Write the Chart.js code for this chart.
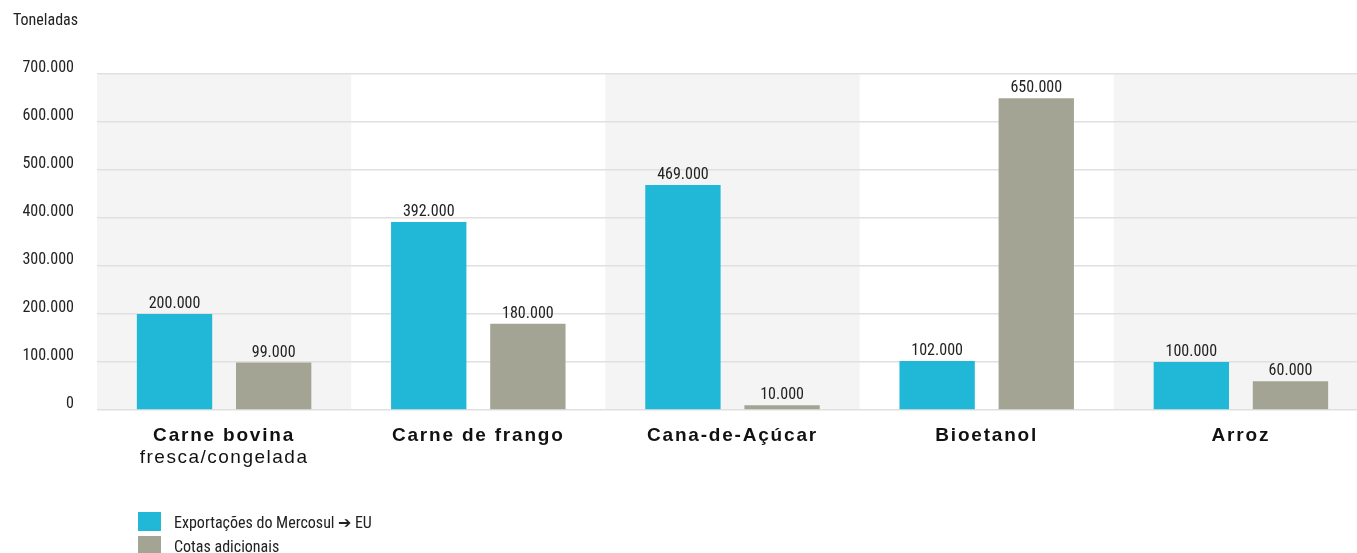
<!DOCTYPE html>
<html>
<head>
<meta charset="utf-8">
<script src="https://cdn.jsdelivr.net/npm/chart.js@4.4.0/dist/chart.umd.min.js"></script>
<style>
  html, body { margin: 0; background: #fff; overflow: hidden; }
  #wrap { width: 1368px; height: 553px; position: relative; }
</style>
</head>
<body>
<div id="wrap"><canvas id="myChart1"></canvas></div>
<script>
//-----------------------------------------------
// data
//-----------------------------------------------
var categories = ['Carne bovina', 'Carne de frango', 'Cana-de-Açúcar', 'Bioetanol', 'Arroz'];
var subLabels = ['fresca/congelada', '', '', '', ''];
var exportacoes = [200000, 392000, 469000, 102000, 100000];
var cotas = [99000, 180000, 10000, 650000, 60000];
var seriesNames = ['Exportações do Mercosul ➔ EU', 'Cotas adicionais'];
var seriesColors = ['#21b8d8', '#a3a494'];
var yTitle = 'Toneladas';
var yMax = 700000;
var yStep = 100000;

var narrow = '"Liberation Sans Narrow", "Roboto Condensed", Roboto, sans-serif';
var wide = '"Liberation Sans", Arial, sans-serif';

function fmt(v) {
  return String(v).replace(/\B(?=(\d{3})+(?!\d))/g, '.');
}

var ctx = document.getElementById('myChart1').getContext('2d');

//-----------------------------------------------
// plugin: shaded bands, value labels, category labels, legend
//-----------------------------------------------
var extras = {
  id: 'extras',
  beforeDraw: function(chart) {
    var c = chart.ctx, a = chart.chartArea, x = chart.scales.x;
    var w = x.width / categories.length;
    c.save();
    c.fillStyle = '#f4f4f4';
    for (var i = 0; i < categories.length; i += 2) {
      var cx = x.getPixelForValue(i);
      c.fillRect(cx - w / 2, a.top, w, a.bottom - a.top);
    }
    c.restore();
  },
  afterDatasetsDraw: function(chart) {
    var c = chart.ctx, a = chart.chartArea, x = chart.scales.x;
    var spacing = 'letterSpacing' in c;
    c.save();
    // numbers above bars
    c.font = '16px ' + narrow;
    c.fillStyle = '#222';
    c.textAlign = 'center';
    c.textBaseline = 'alphabetic';
    chart.data.datasets.forEach(function(ds, di) {
      chart.getDatasetMeta(di).data.forEach(function(bar, j) {
        c.fillText(fmt(ds.data[j]), bar.x, bar.y - 6);
      });
    });
    // category labels
    c.fillStyle = '#111';
    for (var i = 0; i < categories.length; i++) {
      var cx = x.getPixelForValue(i);
      if (spacing) c.letterSpacing = '1.8px';
      c.font = 'bold 19px ' + wide;
      c.fillText(categories[i], cx, a.bottom + 31);
      if (subLabels[i]) {
        if (spacing) c.letterSpacing = '1.5px';
        c.font = '19px ' + wide;
        c.fillText(subLabels[i], cx, a.bottom + 53);
      }
    }
    if (spacing) c.letterSpacing = '0px';
    // legend
    c.textAlign = 'left';
    c.font = '16px ' + narrow;
    var lx = a.left + 41, ly = a.bottom + 102;
    chart.data.datasets.forEach(function(ds, di) {
      c.fillStyle = ds.backgroundColor;
      c.fillRect(lx, ly + di * 24, 23, 19);
      c.fillStyle = '#222';
      c.fillText(ds.label, lx + 36, ly + di * 24 + 16);
    });
    c.restore();
  }
};

//-----------------------------------------------
var myChart = new Chart(ctx, {
  type: 'bar',
  data: {
    labels: categories,
    datasets: [{
      label: seriesNames[0],
      data: exportacoes,
      backgroundColor: seriesColors[0],
      categoryPercentage: 0.78,
      barPercentage: 0.76
    }, {
      label: seriesNames[1],
      data: cotas,
      backgroundColor: seriesColors[1],
      categoryPercentage: 0.78,
      barPercentage: 0.76
    }]
  },
  options: {
    responsive: true,
    maintainAspectRatio: false,
    animation: false,
    layout: { padding: { left: 13, right: 0, top: 0, bottom: 0 } },
    plugins: {
      legend: { display: false },
      tooltip: { enabled: false },
      title: {
        display: true,
        text: yTitle,
        align: 'start',
        color: '#222',
        font: { family: narrow, size: 16, weight: 'normal' },
        padding: { top: 11, bottom: 44 }
      }
    },
    scales: {
      x: {
        grid: { display: false },
        border: { display: false },
        ticks: { display: false },
        afterFit: function(scale) { scale.height = 143; }
      },
      y: {
        min: 0,
        max: yMax,
        border: { display: false },
        grid: { color: '#e0e0e0', lineWidth: 1.5, drawTicks: false },
        ticks: {
          stepSize: yStep,
          color: '#222',
          padding: 23,
          labelOffset: -6,
          font: { family: narrow, size: 16 },
          callback: function(v) { return fmt(v); }
        },
        afterFit: function(scale) { scale.width = 84; }
      }
    }
  },
  plugins: [extras]
});
</script>
</body>
</html>
